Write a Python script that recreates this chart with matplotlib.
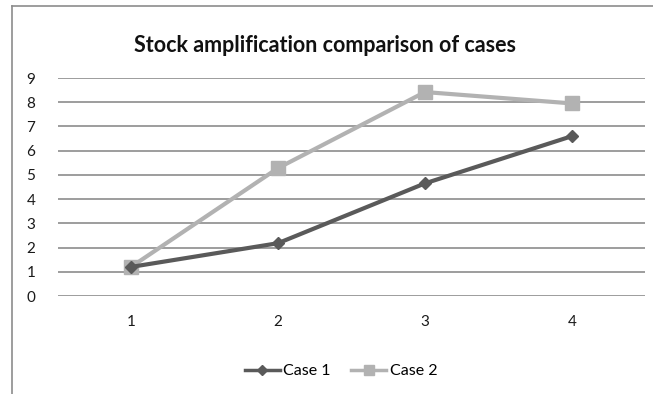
import matplotlib
matplotlib.use("Agg")
import matplotlib.pyplot as plt
from matplotlib.lines import Line2D

categories = ["1", "2", "3", "4"]
case1 = [1.2, 2.18, 4.65, 6.6]
case2 = [1.2, 5.28, 8.42, 7.95]
yticks = [0, 1, 2, 3, 4, 5, 6, 7, 8, 9]

plt.rcParams["font.family"] = ["Lato", "DejaVu Sans"]

W, H = 653, 394
fig = plt.figure(figsize=(W / 100, H / 100), dpi=100)
fig.patch.set_facecolor("white")

# chart frame (left and top edges visible)
fig.add_artist(Line2D([12 / W, 12 / W], [0, 1 - 6 / H], color="#8c8c8c", lw=1.2))
fig.add_artist(Line2D([12 / W, 1], [1 - 6 / H, 1 - 6 / H], color="#8c8c8c", lw=1.2))

left, right = 57.5, 645.5
top, bottom = 78, 296
ax = fig.add_axes([left / W, 1 - bottom / H, (right - left) / W, (bottom - top) / H])
ax.set_facecolor("none")

x = list(range(len(categories)))
ax.set_xlim(-0.5, len(categories) - 0.5)
ax.set_ylim(0, 9)

ax.set_yticks(yticks)
ax.set_yticklabels([str(v) for v in yticks])
ax.set_xticks(x)
ax.set_xticklabels(categories)
ax.yaxis.grid(True, color="#8c8c8c", lw=1.2)
ax.set_axisbelow(True)
for s in ax.spines.values():
    s.set_visible(False)
ax.tick_params(axis="both", length=0, labelsize=11, colors="#1a1a1a")
ax.tick_params(axis="y", pad=16)
ax.tick_params(axis="x", pad=14)

ax.plot(x, case2, color="#b2b2b2", lw=3, marker="s", ms=10, mec="#b2b2b2",
        mfc="#b2b2b2", zorder=3, clip_on=False)
ax.plot(x, case1, color="#5a5a5a", lw=3, marker="D", ms=6.5, mec="#5a5a5a",
        mfc="#5a5a5a", zorder=4, clip_on=False)

fig.text(325 / W, 1 - 46 / H, "Stock amplification comparison of cases",
         ha="center", va="center", fontsize=15.5, fontweight="bold", color="#111111")

handles = [
    Line2D([], [], color="#5a5a5a", lw=2.5, marker="D", ms=5, mfc="#5a5a5a", mec="#5a5a5a"),
    Line2D([], [], color="#b2b2b2", lw=2.5, marker="s", ms=7, mfc="#b2b2b2", mec="#b2b2b2"),
]
fig.legend(handles, ["Case 1", "Case 2"], loc="center", bbox_to_anchor=(341 / W, 1 - 371 / H),
           ncol=2, frameon=False, fontsize=11.5, handlelength=2.2, columnspacing=1.3,
           handletextpad=0.2)

fig.savefig("out.png", dpi=100)
